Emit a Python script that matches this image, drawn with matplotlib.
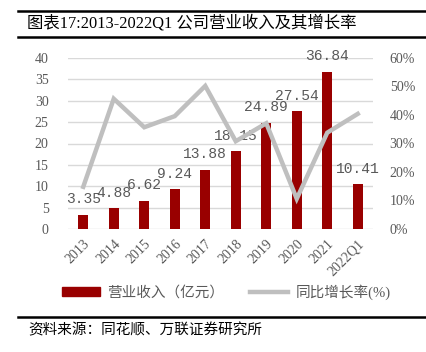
import matplotlib
matplotlib.use("Agg")
import matplotlib.pyplot as plt
from matplotlib.lines import Line2D
from matplotlib.patches import Patch

categories = ["2013", "2014", "2015", "2016", "2017", "2018", "2019", "2020", "2021", "2022Q1"]
revenue = [3.35, 4.88, 6.62, 9.24, 13.88, 18.15, 24.89, 27.54, 36.84, 10.41]
growth = [14.8, 45.7, 35.7, 39.6, 50.2, 30.8, 37.1, 10.6, 33.8, 40.4]
left_ticks = [0, 5, 10, 15, 20, 25, 30, 35, 40]
right_ticks = [0, 10, 20, 30, 40, 50, 60]

title = "图表17:2013-2022Q1 公司营业收入及其增长率"
source = "资料来源：同花顺、万联证券研究所"
legend_bar = "营业收入（亿元）"
legend_line = "同比增长率(%)"

W, H = 427, 352
fig = plt.figure(figsize=(W / 100, H / 100), dpi=100)
fam = ["Liberation Serif", "Noto Sans CJK SC", "DejaVu Sans"]
gray = "#595959"
bar_color = "#990000"
line_color = "#BFBFBF"

ax = fig.add_axes([68 / W, 1 - 229 / H, (373 - 68) / W, (229 - 58) / H])
x = list(range(len(categories)))
ax.bar(x, revenue, width=0.33, color=bar_color, zorder=3)
ax.set_xlim(-0.5, len(categories) - 0.5)
ax.set_ylim(0, 40)
ax.set_yticks(left_ticks)
ax.set_yticklabels([str(t) for t in left_ticks], fontfamily=fam, fontsize=10, color=gray)
ax.set_xticks(x)
ax.set_xticklabels(categories, rotation=45, ha="right", rotation_mode="anchor",
                   fontfamily=fam, fontsize=10, color=gray)
ax.grid(axis="y", color="#D9D9D9", linewidth=1, zorder=0)
for s in ax.spines.values():
    s.set_visible(False)
ax.tick_params(axis="y", length=0, pad=14)
ax.tick_params(axis="x", length=0, pad=6)

for xi, v in zip(x, revenue):
    ax.annotate(f"{v:.2f}", (xi, v), xytext=(0, 6), textcoords="offset points",
                ha="center", va="bottom", fontsize=10.5, color=gray,
                fontfamily=["Liberation Mono", "DejaVu Sans Mono"], zorder=5)

ax2 = ax.twinx()
ax2.plot(x, growth, color=line_color, linewidth=3.2, zorder=4, solid_joinstyle="miter")
ax2.set_ylim(0, 60)
ax2.set_yticks(right_ticks)
ax2.set_yticklabels([f"{t}%" for t in right_ticks], fontfamily=fam, fontsize=10, color=gray)
for s in ax2.spines.values():
    s.set_visible(False)
ax2.tick_params(length=0, pad=12)

handles = [Patch(color=bar_color), Line2D([0], [0], color=line_color, linewidth=3.2)]
fig.legend(handles, [legend_bar, legend_line], loc="center", bbox_to_anchor=(226 / W, 1 - 292 / H),
           ncol=2, frameon=False, prop={"family": fam, "size": 10.5}, labelcolor=gray,
           handlelength=2.6, handleheight=0.6, columnspacing=1.8, handletextpad=0.5)

fig.text(27 / W, 1 - 23 / H, title, fontfamily=fam, fontsize=11.8, color="black", va="center", ha="left")
for yy in (11, 36.5):
    fig.add_artist(Line2D([18 / W, 1], [1 - yy / H, 1 - yy / H], color="black", linewidth=1.8))
fig.add_artist(Line2D([18 / W, 1], [1 - 316.5 / H, 1 - 316.5 / H], color="black", linewidth=1.8))
fig.text(28 / W, 1 - 330 / H, source, fontfamily=fam, fontsize=10.5, color="black", va="center", ha="left")

fig.savefig("out.png", dpi=100)
